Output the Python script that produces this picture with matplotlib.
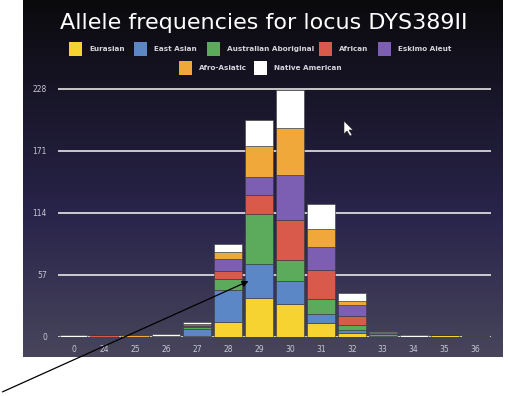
import numpy as np
import matplotlib
matplotlib.use("Agg")
import matplotlib.pyplot as plt
from matplotlib.patches import Rectangle, Polygon

# alleles on the x axis
categories = ['0', '24', '25', '26', '27', '28', '29', '30', '31', '32', '33', '34', '35', '36']

# stacked counts, bottom to top
eurasian = [0, 0, 0, 0.5, 1, 14, 35.5, 30, 13, 3.5, 0, 0, 1.5, 0]
east_asian = [0, 0, 0, 0, 6, 29, 32, 21.5, 8.5, 3, 1, 0, 0, 0]
aus_aboriginal = [0, 0, 0, 0, 2.5, 10, 46, 19.5, 13, 4.5, 1.5, 0, 0, 0]
african = [0, 1.5, 0, 0, 0.5, 8, 17, 37, 27, 8.5, 0.5, 0, 0, 0]
eskimo_aleut = [0, 0, 0, 0, 1.5, 10.5, 17, 41, 21, 9.5, 1, 0, 0, 1]
afro_asiatic = [0, 0, 1.5, 0, 0.5, 7, 28, 43, 16.5, 4.5, 0, 0, 0, 0]
native_american = [1.5, 0, 0, 2.5, 2, 7, 24, 35.5, 23.5, 7, 0.5, 1.5, 0, 0]

series_names = ['Eurasian', 'East Asian', 'Australian Aboriginal', 'African',
                'Eskimo Aleut', 'Afro-Asiatic', 'Native American']
series = [eurasian, east_asian, aus_aboriginal, african,
          eskimo_aleut, afro_asiatic, native_american]
colors = ['#f7d332', '#5b87c6', '#5caa5c', '#d95a4a', '#7c5fb2', '#f0a83a', '#ffffff']

yticks = [0, 57, 114, 171, 228]

W, H = 509, 396
fig = plt.figure(figsize=(W / 100, H / 100), dpi=100)
fig.patch.set_facecolor('white')

# dark gradient panel behind the chart
bg = fig.add_axes([23 / W, 1 - 357 / H, 480 / W, 357 / H])
grad = np.linspace(0, 1, 256)
top = np.array([0.04, 0.04, 0.05])
mid = np.array([0.16, 0.14, 0.29])
bot = np.array([0.28, 0.27, 0.36])
cols = np.where(grad[:, None] < 0.6,
                top + (mid - top) * (grad[:, None] / 0.6),
                mid + (bot - mid) * ((grad[:, None] - 0.6) / 0.4))
bg.imshow(cols[:, None, :], aspect='auto', extent=[0, 1, 0, 1])
bg.axis('off')

ax = fig.add_axes([58 / W, 1 - 337 / H, 433 / W, (337 - 87.9) / H])
ax.patch.set_alpha(0)
x = np.arange(len(categories))
bottom = np.zeros(len(categories))
for name, vals, c in zip(series_names, series, colors):
    ax.bar(x, vals, bottom=bottom, width=0.9, color=c, edgecolor='#3a3a3a',
           linewidth=0.4, label=name, zorder=3)
    bottom += np.array(vals)

ax.set_xlim(-0.5, len(categories) - 0.5)
ax.set_ylim(0, 229)
ax.set_yticks(yticks)
ax.set_xticks(x)
ax.set_xticklabels(categories)
for y in yticks:
    ax.axhline(y, color='#e6e6e6', lw=1.2, zorder=1)
for s in ax.spines.values():
    s.set_visible(False)
ax.tick_params(axis='both', colors='#c8c8d2', labelsize=5.5, length=0)
ax.tick_params(axis='y', pad=8)
ax.tick_params(axis='x', pad=6)

fig.text(264 / W, 1 - 23 / H, 'Allele frequencies for locus DYS389II',
         color='white', fontsize=16, ha='center', va='center')

# legend laid out in two centred rows
leg_pos = [(69, 49), (134, 49), (207, 49), (319, 49), (378, 49), (179, 68), (254, 68)]
for (lx, ly), name, c in zip(leg_pos, series_names, colors):
    fig.patches.append(Rectangle((lx / W, 1 - (ly + 6.5) / H), 13 / W, 13 / H,
                                 transform=fig.transFigure, facecolor=c,
                                 edgecolor='none'))
    fig.text((lx + 20) / W, 1 - ly / H, name, color='#d4d4dc', fontsize=5.2,
             fontweight='semibold', ha='left', va='center')

# mouse pointer
cur = [(344, 121), (344, 134), (347, 131), (350, 136), (352, 135), (349, 130), (353, 130)]
fig.patches.append(Polygon([(px / W, 1 - py / H) for px, py in cur], closed=True,
                           transform=fig.transFigure, facecolor='white',
                           edgecolor='#222222', linewidth=0.4))

# annotation arrow
fig.add_artist(matplotlib.patches.FancyArrowPatch(
    (0, 1 - 393 / H), (251 / W, 1 - 280 / H), transform=fig.transFigure,
    arrowstyle='-|>', mutation_scale=9, color='black', lw=0.9))

fig.savefig('out.png', dpi=100, facecolor='white')
